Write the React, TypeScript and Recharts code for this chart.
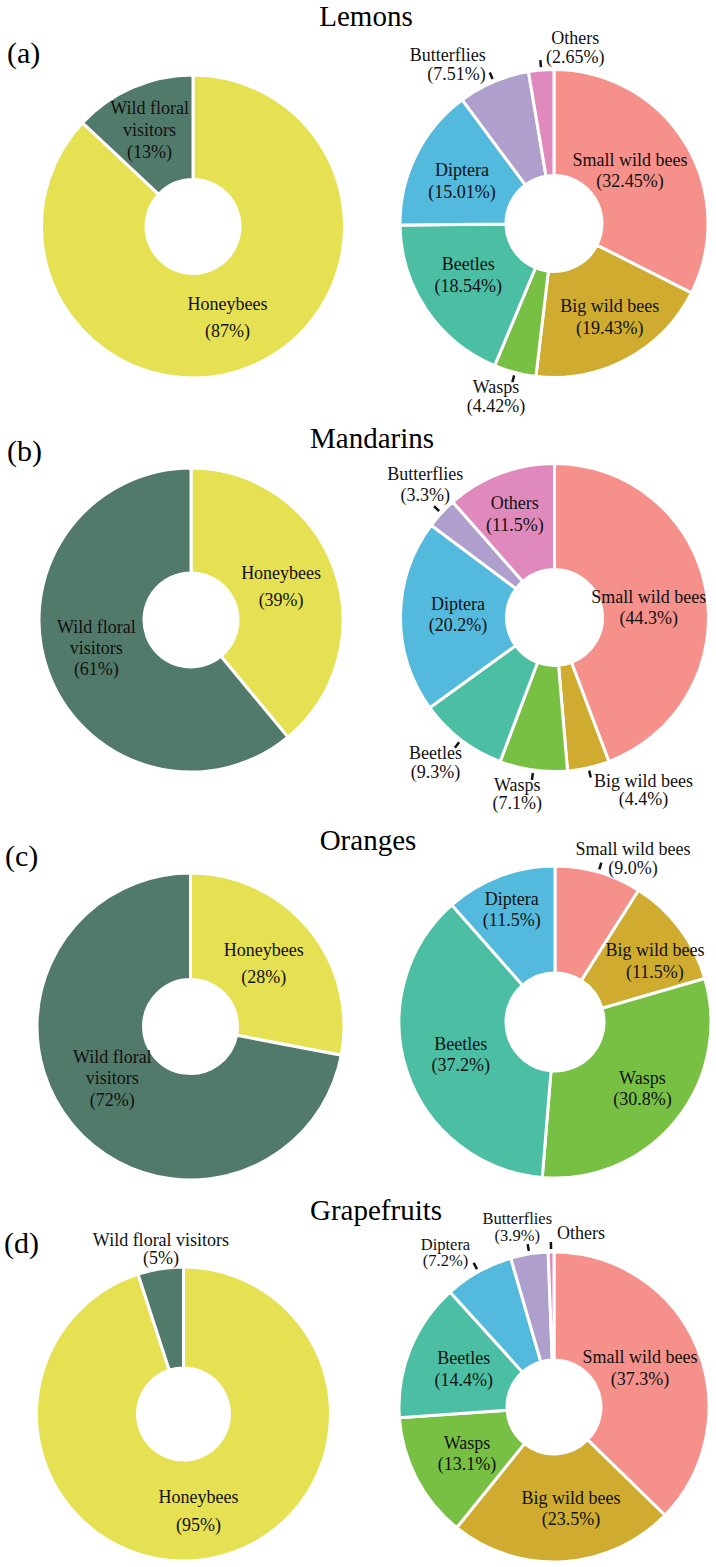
import { PieChart, Pie, Cell } from 'recharts'

const W = 716
const H = 1567
const FONT = '"Liberation Serif", "Times New Roman", Times, serif'

// categories
const GROUPS = ['Honeybees', 'Wild floral visitors']
const TAXA = ['Small wild bees', 'Big wild bees', 'Wasps', 'Beetles', 'Diptera', 'Butterflies', 'Others']
const CROPS = ['Lemons', 'Mandarins', 'Oranges', 'Grapefruits']
const PANELS = ['(a)', '(b)', '(c)', '(d)']

// shares (%)
const lemonsGroups = [87, 13]
const lemonsTaxa = [32.45, 19.43, 4.42, 18.54, 15.01, 7.51, 2.65]
const mandarinsGroups = [39, 61]
const mandarinsTaxa = [44.3, 4.4, 7.1, 9.3, 20.2, 3.3, 11.5]
const orangesGroups = [28, 72]
const orangesTaxa = [9.0, 11.5, 30.8, 37.2, 11.5, 0, 0]
const grapefruitsGroups = [95, 5]
const grapefruitsTaxa = [37.3, 23.5, 13.1, 14.4, 7.2, 3.9, 0.6]

const COLORS: Record<string, string> = {
  Honeybees: '#e6e053',
  'Wild floral visitors': '#517a6b',
  'Small wild bees': '#f5908a',
  'Big wild bees': '#cfac30',
  Wasps: '#77c043',
  Beetles: '#4bbea4',
  Diptera: '#53b9dd',
  Butterflies: '#af9fcd',
  Others: '#e089bc',
}

type Geo = { cx: number; cy: number; r: number; R: number }
type Spec = {
  nudge?: [number, number]
  out?: [number, number]
  anchor?: 'start' | 'middle' | 'end'
  tick?: boolean
  gap?: number
  size?: number
  lines?: string[]
  noPct?: boolean
}

const WRAP = ['Wild floral', 'visitors']

const rows = [
  {
    title: { x: 366, y: 26 },
    letter: { x: 7, y: 63 },
    left: { cx: 193, cy: 226.5, r: 47, R: 151.5 },
    right: { cx: 554, cy: 223.5, r: 48, R: 154 },
    groups: lemonsGroups,
    taxa: lemonsTaxa,
    decimals: 2,
    leftSpecs: {
      Honeybees: { nudge: [-5, 0], gap: 27 },
      'Wild floral visitors': { lines: WRAP, nudge: [-4, -5], gap: 22 },
    } as Record<string, Spec>,
    rightSpecs: {
      'Small wild bees': { nudge: [-10, 0] },
      'Big wild bees': { nudge: [8, 4.5] },
      Wasps: { out: [-19, 24], tick: true, gap: 19 },
      Beetles: { nudge: [-2, -5] },
      Diptera: { nudge: [-1.5, 2.5] },
      Butterflies: { out: [-8, -17], anchor: 'end', tick: true, gap: 19 },
      Others: { out: [34, -23], tick: true, gap: 19 },
    } as Record<string, Spec>,
  },
  {
    title: { x: 372, y: 448 },
    letter: { x: 7, y: 461 },
    left: { cx: 191, cy: 620, r: 47, R: 152 },
    right: { cx: 554.5, cy: 617.5, r: 48, R: 154 },
    groups: mandarinsGroups,
    taxa: mandarinsTaxa,
    decimals: 1,
    leftSpecs: {
      Honeybees: { nudge: [-3.5, 0], gap: 27 },
      'Wild floral visitors': { lines: WRAP, nudge: [-1, -5.5], gap: 21 },
    } as Record<string, Spec>,
    rightSpecs: {
      'Small wild bees': { nudge: [-5, 8] },
      'Big wild bees': { out: [55, 22], tick: true, gap: 18 },
      Wasps: { out: [-16, 24], tick: true, gap: 18 },
      Beetles: { out: [-25.5, 22.5], tick: true, gap: 19 },
      Diptera: { nudge: [4.5, -2] },
      Butterflies: { out: [-16, -29], tick: true, gap: 21 },
      Others: { nudge: [-4, -9] },
    } as Record<string, Spec>,
  },
  {
    title: { x: 368, y: 850 },
    letter: { x: 5, y: 866 },
    left: { cx: 190.5, cy: 1026.5, r: 47, R: 153.5 },
    right: { cx: 555, cy: 1022, r: 49, R: 156 },
    groups: orangesGroups,
    taxa: orangesTaxa,
    decimals: 1,
    leftSpecs: {
      Honeybees: { nudge: [-4, 0.5], gap: 27 },
      'Wild floral visitors': { lines: WRAP, nudge: [-1, -12], gap: 21.5 },
    } as Record<string, Spec>,
    rightSpecs: {
      'Small wild bees': { out: [34.5, -14], tick: true, gap: 19 },
      'Big wild bees': { nudge: [18, 0.7] },
      Wasps: { nudge: [8, 1.5] },
      Beetles: { nudge: [3, 0] },
      Diptera: { nudge: [-7, -16.5] },
    } as Record<string, Spec>,
  },
  {
    title: { x: 376, y: 1220 },
    letter: { x: 4, y: 1253 },
    left: { cx: 183.5, cy: 1414, r: 46, R: 147 },
    right: { cx: 554, cy: 1407, r: 47, R: 155 },
    groups: grapefruitsGroups,
    taxa: grapefruitsTaxa,
    decimals: 1,
    leftSpecs: {
      Honeybees: { nudge: [0, 2], gap: 28 },
      'Wild floral visitors': { out: [0.5, -20], gap: 18 },
    } as Record<string, Spec>,
    rightSpecs: {
      'Small wild bees': { nudge: [-7, 0] },
      'Big wild bees': { nudge: [11, 0.7] },
      Wasps: { nudge: [2.5, 0] },
      Beetles: { nudge: [3.5, 0] },
      Diptera: { out: [-33, -19], tick: true, gap: 16.5, size: 16.5 },
      Butterflies: { out: [-12, -27], tick: true, gap: 16.5, size: 16.5 },
      Others: { out: [6, -19], anchor: 'start', tick: true, noPct: true },
    } as Record<string, Spec>,
  },
]

const RAD = Math.PI / 180
function polar(cx: number, cy: number, r: number, angle: number): [number, number] {
  return [cx + r * Math.cos(-angle * RAD), cy + r * Math.sin(-angle * RAD)]
}

type Slice = { name: string; value: number }

const makeLabel = (data: Slice[], decimals: number, specs: Record<string, Spec>) => (props: any) => {
  const { cx, cy, midAngle, innerRadius, outerRadius, index } = props
  const d = data[index]
  if (!d) return null
  const s = specs[d.name] || {}
  const pct = `(${d.value.toFixed(decimals)}%)`
  const lines = [...(s.lines ?? [d.name]), ...(s.noPct ? [] : [pct])]
  let x: number
  let y: number
  if (s.out) {
    const [ex, ey] = polar(cx, cy, outerRadius, midAngle)
    x = ex + s.out[0]
    y = ey + s.out[1]
  } else {
    const [mx, my] = polar(cx, cy, (innerRadius + outerRadius) / 2, midAngle)
    x = mx + (s.nudge?.[0] ?? 0)
    y = my + (s.nudge?.[1] ?? 0)
  }
  const gap = s.gap ?? 21.5
  const t0 = polar(cx, cy, outerRadius + 3, midAngle)
  const t1 = polar(cx, cy, outerRadius + 10, midAngle)
  return (
    <g key={`lbl-${d.name}`}>
      {s.tick && (
        <line x1={t0[0]} y1={t0[1]} x2={t1[0]} y2={t1[1]} stroke="#111" strokeWidth={2.5} />
      )}
      {lines.map((t, i) => (
        <text
          key={i}
          x={x}
          y={y + (i - (lines.length - 1) / 2) * gap}
          textAnchor={s.anchor ?? 'middle'}
          dominantBaseline="central"
          fill="#111"
          fontSize={s.size ?? 18}
          fontFamily={FONT}
        >
          {t}
        </text>
      ))}
    </g>
  )
}

function donut(key: string, names: string[], values: number[], decimals: number, geo: Geo, specs: Record<string, Spec>) {
  const data: Slice[] = names.map((name, i) => ({ name, value: values[i] })).filter((d) => d.value > 0)
  return (
    <Pie
      key={key}
      data={data}
      dataKey="value"
      nameKey="name"
      cx={geo.cx}
      cy={geo.cy}
      innerRadius={geo.r}
      outerRadius={geo.R}
      startAngle={90}
      endAngle={-270}
      stroke="#fff"
      strokeWidth={3}
      isAnimationActive={false}
      labelLine={false}
      label={makeLabel(data, decimals, specs)}
    >
      {data.map((d) => (
        <Cell key={d.name} fill={COLORS[d.name]} />
      ))}
    </Pie>
  )
}

export default function App() {
  return (
    <div style={{ position: 'absolute', left: 0, top: 0, width: W, height: H, background: '#fff' }}>
      <PieChart width={W} height={H} margin={{ top: 0, right: 0, bottom: 0, left: 0 }}>
        {rows.map((row, i) => donut(`g${i}`, GROUPS, row.groups, 0, row.left, row.leftSpecs))}
        {rows.map((row, i) => donut(`t${i}`, TAXA, row.taxa, row.decimals, row.right, row.rightSpecs))}
      </PieChart>
      <svg width={W} height={H} style={{ position: 'absolute', left: 0, top: 0, pointerEvents: 'none' }}>
        {rows.map((row, i) => (
          <g key={i} fontFamily={FONT} fill="#000">
            <text x={row.title.x} y={row.title.y} textAnchor="middle" fontSize={29}>
              {CROPS[i]}
            </text>
            <text x={row.letter.x} y={row.letter.y} fontSize={30}>
              {PANELS[i]}
            </text>
          </g>
        ))}
      </svg>
    </div>
  )
}
